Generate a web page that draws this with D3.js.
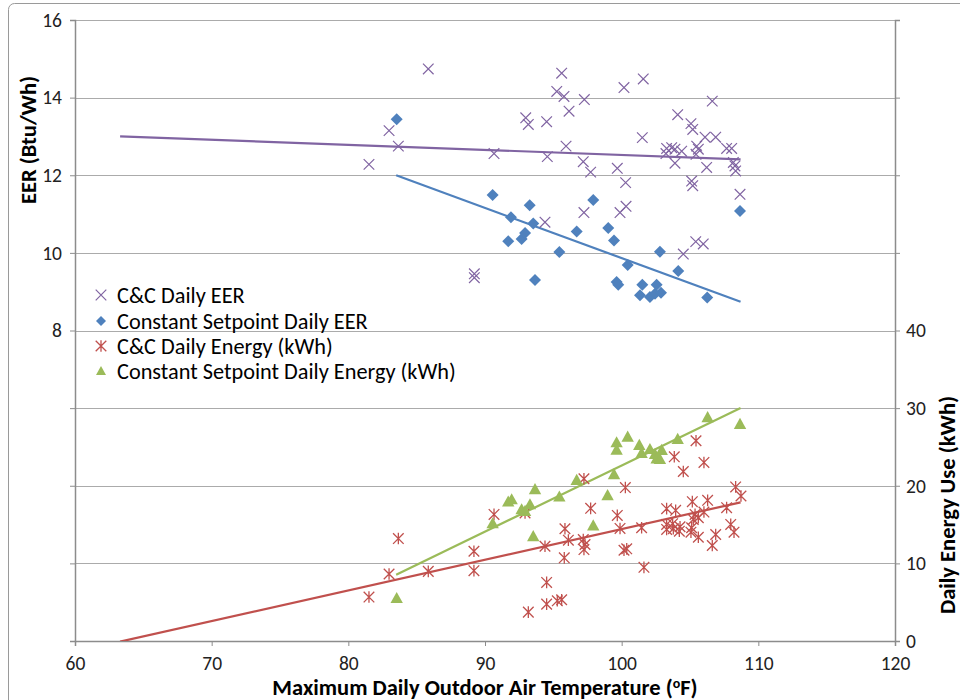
<!DOCTYPE html>
<html><head><meta charset="utf-8">
<script src="https://cdn.jsdelivr.net/npm/d3@7"></script>
<style>
html,body{margin:0;padding:0;background:#fff;}
svg{display:block;font-family:Carlito,Calibri,Lato,"Open Sans",sans-serif;}
</style></head>
<body>
<svg id="chart" width="960" height="700"></svg>
<script>
// ---------- DATA ----------
const xTicks = [60, 70, 80, 90, 100, 110, 120];
const leftTicks = [0, 2, 4, 6, 8, 10, 12, 14, 16];
const leftTickLabels = ["", "", "", "", "8", "10", "12", "14", "16"];
const rightTicks = [0, 10, 20, 30, 40, 50, 60, 70, 80];
const rightTickLabels = ["0", "10", "20", "30", "40", "", "", "", ""];
const seriesNames = ["C&C Daily EER", "Constant Setpoint Daily EER", "C&C Daily Energy (kWh)", "Constant Setpoint Daily Energy (kWh)"];

// C&C Daily EER (left axis)
const ccEerTemp = [85.85, 82.98, 83.66, 81.51, 90.66, 92.98, 93.17, 89.22, 89.22,
  95.61, 95.25, 95.78, 97.27, 96.15, 94.51, 100.17, 101.58, 106.63, 104.10, 105.07, 105.20, 106.10, 106.88,
  101.51, 95.93, 94.56, 103.29, 103.66, 103.90, 104.39, 103.24, 105.49, 105.61, 105.44, 107.68, 108.05,
  108.17, 108.29, 108.34, 103.90, 106.22, 97.19, 97.73, 99.68, 100.29, 105.12, 105.20, 108.66, 97.24,
  99.88, 100.32, 94.39, 105.42, 105.97, 104.51];
const ccEer = [14.74, 13.15, 12.75, 12.28, 12.56, 13.48, 13.31, 9.46, 9.36,
  14.63, 14.16, 14.03, 13.95, 13.65, 13.38, 14.26, 14.48, 13.91, 13.56, 13.33, 13.18, 12.98, 12.98,
  12.97, 12.75, 12.48, 12.69, 12.71, 12.67, 12.62, 12.56, 12.75, 12.67, 12.54, 12.69, 12.69,
  12.33, 12.24, 12.11, 12.31, 12.20, 12.35, 12.08, 12.18, 11.81, 11.85, 11.73, 11.51, 11.04,
  11.04, 11.20, 10.79, 10.29, 10.23, 9.97];

// Constant Setpoint Daily EER (left axis)
const csEerTemp = [83.54, 90.56, 91.90, 91.70, 93.27, 92.68, 92.93, 93.53, 93.66, 95.44, 96.71, 97.92, 99.02,
  99.44, 99.63, 99.75, 100.44, 101.34, 101.51, 102.07, 102.44, 102.56, 102.88, 102.80, 104.14, 106.26, 108.66];
const csEer = [13.44, 11.49, 10.92, 10.30, 11.23, 10.36, 10.51, 10.76, 9.30, 10.02, 10.55, 11.36, 10.64,
  10.32, 9.25, 9.18, 9.69, 8.91, 9.18, 8.86, 8.95, 9.18, 8.97, 10.03, 9.53, 8.85, 11.08];

// C&C Daily Energy (kWh) (right axis)
const ccEnergyTemp = [81.51, 82.98, 83.66, 85.85, 89.19, 89.19, 90.66, 92.93, 93.17, 94.39, 94.51, 94.51,
  95.29, 95.61, 95.85, 96.10, 95.80, 97.19, 97.32, 97.24, 97.24, 97.73, 99.68, 99.88, 100.17, 100.37,
  100.27, 101.46, 101.63, 103.29, 103.95, 103.29, 103.73, 103.29, 103.78, 104.27, 104.22, 103.85, 104.51,
  105.44, 105.17, 106.29, 105.37, 106.02, 105.24, 105.61, 105.12, 105.07, 105.61, 106.02, 106.88, 106.63,
  107.68, 107.98, 108.22, 108.34, 108.73];
const ccEnergy = [5.66, 8.63, 13.20, 8.97, 11.56, 9.06, 16.31, 16.5, 3.72, 12.21, 7.55, 4.75,
  5.18, 5.31, 14.46, 12.99, 10.71, 13.07, 12.43, 11.78, 20.9, 17.09, 16.18, 14.50, 11.69, 11.87,
  19.77, 14.59, 9.49, 17.05, 16.83, 15.02, 15.11, 14.37, 14.46, 14.72, 14.15, 23.73, 21.84,
  25.80, 17.95, 18.12, 16.31, 16.61, 15.66, 15.88, 14.59, 14.02, 13.37, 23.0, 13.72, 12.30,
  17.18, 15.02, 14.02, 19.85, 18.68];

// Constant Setpoint Daily Energy (kWh) (right axis)
const csEnergyTemp = [83.54, 90.56, 91.70, 91.95, 92.68, 92.93, 93.29, 93.66, 93.53, 95.44, 96.71, 98.97, 97.92,
  99.44, 99.63, 99.63, 100.44, 101.29, 101.46, 102.07, 102.44, 102.56, 102.80, 102.93, 104.10, 106.29, 108.66];
const csEnergy = [5.52, 15.15, 17.95, 18.25, 16.96, 16.74, 17.6, 19.55, 13.5, 18.6, 20.75, 18.77, 14.89,
  21.49, 25.59, 24.64, 26.32, 25.24, 24.21, 24.72, 24.08, 23.52, 23.43, 24.6, 26.02, 28.83, 27.96];

// Linear trend lines (end points)
const trendCCEer = [[63.3, 13.0], [108.7, 12.41]];
const trendCSEer = [[83.5, 12.0], [108.7, 8.74]];
const trendCCEnergy = [[63.3, -0.08], [108.7, 17.86]];
const trendCSEnergy = [[83.5, 8.54], [108.7, 30.03]];

// ---------- STYLE ----------
const colPurple = "#8064A2", colBlue = "#4F81BD", colRed = "#C0504D", colGreen = "#9BBB59";
const gridCol = "#ABABAB", axisCol = "#8C8C8C", textCol = "#000";

// ---------- CHART ----------
const svg = d3.select("#chart");
const plot = {left: 75, right: 895, top: 20, bottom: 641};

const x = d3.scaleLinear().domain([60, 120]).range([plot.left, plot.right]);
const yL = d3.scaleLinear().domain([0, 16]).range([plot.bottom, plot.top]);
const yR = d3.scaleLinear().domain([0, 80]).range([plot.bottom, plot.top]);

// outer chart border
svg.append("rect").attr("x", 8.5).attr("y", 3.5).attr("width", 1000).attr("height", 800)
  .attr("rx", 6).attr("fill", "none").attr("stroke", "#9A9A9A").attr("stroke-width", 1);

svg.append("defs").append("clipPath").attr("id", "clip")
  .append("rect").attr("x", plot.left).attr("y", plot.top)
  .attr("width", plot.right - plot.left).attr("height", plot.bottom - plot.top);

// gridlines
svg.append("g").selectAll("line").data(leftTicks.filter(d => d > 0)).join("line")
  .attr("x1", plot.left).attr("x2", plot.right)
  .attr("y1", d => Math.round(yL(d)) + 0.5).attr("y2", d => Math.round(yL(d)) + 0.5)
  .attr("stroke", gridCol).attr("stroke-width", 1);

// axes
const fmtL = d => leftTickLabels[leftTicks.indexOf(d)];
const fmtR = d => rightTickLabels[rightTicks.indexOf(d)];

const gx = svg.append("g").attr("transform", `translate(0,${plot.bottom})`)
  .call(d3.axisBottom(x).tickValues(xTicks).tickSize(5).tickPadding(7));
const gl = svg.append("g").attr("transform", `translate(${plot.left},0)`)
  .call(d3.axisLeft(yL).tickValues(leftTicks).tickFormat(fmtL).tickSize(5).tickPadding(8));
const gr = svg.append("g").attr("transform", `translate(${plot.right},0)`)
  .call(d3.axisRight(yR).tickValues(rightTicks).tickFormat(fmtR).tickSize(5).tickPadding(6));

[gx, gl, gr].forEach(g => {
  g.select(".domain").attr("stroke", axisCol).attr("stroke-width", 1.5);
  g.selectAll(".tick line").attr("stroke", axisCol);
  g.selectAll(".tick text").attr("fill", "#222").style("font-size", "19.5px")
    .style("font-family", "Carlito,Calibri,Lato,sans-serif");
});
gx.selectAll(".tick text").attr("dy", "0.85em");

// trend lines
const lineFn = ys => d3.line().x(d => x(d[0])).y(d => ys(d[1]));
const tg = svg.append("g").attr("clip-path", "url(#clip)");
[[trendCCEer, yL, colPurple], [trendCSEer, yL, colBlue], [trendCCEnergy, yR, colRed], [trendCSEnergy, yR, colGreen]]
  .forEach(([data, ys, c]) => {
    tg.append("path").datum(data).attr("d", lineFn(ys)).attr("fill", "none")
      .attr("stroke", c).attr("stroke-width", 2.2);
  });

// marker shapes
function drawX(g, cx, cy, c) {
  const s = 5.3;
  g.append("path").attr("d", `M${cx - s},${cy - s}L${cx + s},${cy + s}M${cx - s},${cy + s}L${cx + s},${cy - s}`)
    .attr("stroke", c).attr("stroke-width", 1.2).attr("fill", "none");
}
function drawStar(g, cx, cy, c) {
  const s = 5.3;
  g.append("path").attr("d", `M${cx - s},${cy - s}L${cx + s},${cy + s}M${cx - s},${cy + s}L${cx + s},${cy - s}M${cx},${cy - s - 0.5}L${cx},${cy + s + 0.5}`)
    .attr("stroke", c).attr("stroke-width", 1.3).attr("fill", "none");
}
function drawDiamond(g, cx, cy, c, s = 6) {
  g.append("path").attr("d", `M${cx},${cy - s}L${cx + s},${cy}L${cx},${cy + s}L${cx - s},${cy}Z`)
    .attr("fill", c);
}
function drawTri(g, cx, cy, c, s = 6.2) {
  g.append("path").attr("d", `M${cx},${cy - s}L${cx + s},${cy + s * 0.8}L${cx - s},${cy + s * 0.8}Z`)
    .attr("fill", c);
}

const mg = svg.append("g");
ccEerTemp.forEach((t, i) => drawX(mg, x(t), yL(ccEer[i]), colPurple));
csEerTemp.forEach((t, i) => drawDiamond(mg, x(t), yL(csEer[i]), colBlue));
ccEnergyTemp.forEach((t, i) => drawStar(mg, x(t), yR(ccEnergy[i]), colRed));
csEnergyTemp.forEach((t, i) => drawTri(mg, x(t), yR(csEnergy[i]), colGreen));

// legend
const lg = svg.append("g");
const legY = [295, 321, 346, 371];
const legDraw = [
  (g, cx, cy) => drawX(g, cx, cy, colPurple),
  (g, cx, cy) => drawDiamond(g, cx, cy, colBlue, 5),
  (g, cx, cy) => drawStar(g, cx, cy, colRed),
  (g, cx, cy) => drawTri(g, cx, cy, colGreen, 5)
];
seriesNames.forEach((n, i) => {
  legDraw[i](lg, 101, legY[i]);
  lg.append("text").attr("x", 117).attr("y", legY[i]).attr("dy", "0.36em")
    .style("font-size", "22.3px").attr("fill", textCol).text(n);
});

// axis titles
svg.append("text").attr("transform", `translate(36,140) rotate(-90)`).attr("text-anchor", "middle")
  .style("font-size", "22.5px").style("font-weight", "bold").attr("fill", textCol).text("EER (Btu/Wh)");
svg.append("text").attr("transform", `translate(955,505) rotate(-90)`).attr("text-anchor", "middle")
  .style("font-size", "22.5px").style("font-weight", "bold").attr("fill", textCol).text("Daily Energy Use (kWh)");
const xt = svg.append("text").attr("x", 485).attr("y", 695).attr("text-anchor", "middle")
  .style("font-size", "22.5px").style("font-weight", "bold").attr("fill", textCol);
xt.append("tspan").text("Maximum Daily Outdoor Air Temperature (");
xt.append("tspan").attr("dy", -7).style("font-size", "14px").text("o");
xt.append("tspan").attr("dy", 7).text("F)");
</script>
</body></html>
